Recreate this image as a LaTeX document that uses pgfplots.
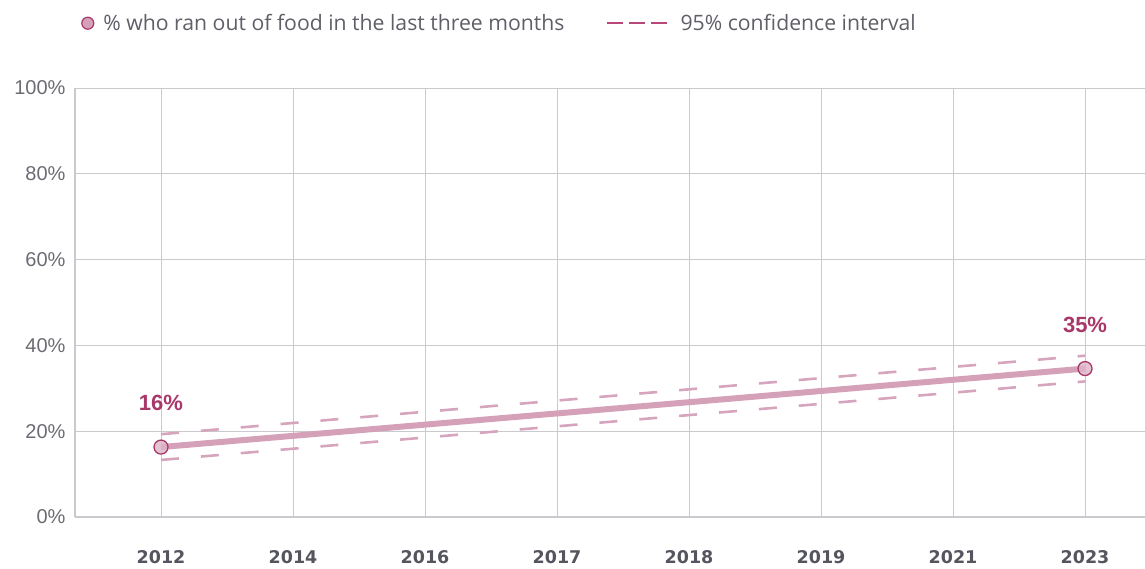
\documentclass[border=0pt]{standalone}
\usepackage{pgfplots}
\pgfplotsset{compat=1.18}
\usepackage{fontspec}
\setmainfont{Liberation Sans}
\newfontfamily\legfont{Open Sans}
\newfontfamily\xfont{DejaVu Sans}
\definecolor{linec}{HTML}{D4A1B9}
\definecolor{dashc}{HTML}{D6A5BD}
\definecolor{markc}{HTML}{A8386A}
\definecolor{legdash}{HTML}{B8487A}
\definecolor{gridc}{HTML}{CACACE}
\definecolor{ytc}{HTML}{6B6B73}
\definecolor{xtc}{HTML}{55555F}
\definecolor{legc}{HTML}{5F5F68}
\begin{document}
\begin{tikzpicture}
\path[use as bounding box] (-75pt,-51pt) rectangle (1070pt,517pt);
\begin{axis}[
  at={(0pt,0pt)}, anchor=south west,
  scale only axis, width=1070pt, height=429pt,
  xmin=-0.6515, xmax=7.4545, ymin=0, ymax=100,
  xtick={0,...,7},
  xticklabels={2012,2014,2016,2017,2018,2019,2021,2023},
  ytick={0,20,40,60,80,100},
  yticklabel={\pgfmathprintnumber{\tick}\%},
  /pgf/number format/assume math mode=true,
  axis x line=bottom, axis y line=left,
  axis line style={-, gridc, line width=1.1pt},
  grid=major, major grid style={gridc, line width=0.9pt},
  major tick length=0pt,
  xticklabel style={font=\xfont\fontsize{17.5}{20}\selectfont\bfseries, text=xtc, yshift=-30pt},
  yticklabel style={font=\fontsize{20}{22}\selectfont, text=ytc, xshift=-6pt},
  clip=false,
  legend style={at={(0.0028,1.151)}, anchor=west, draw=none, fill=none,
    font=\legfont\fontsize{21.2}{24}\selectfont, text=legc,
    legend columns=2,
    /tikz/every even column/.append style={column sep=40pt},
    /tikz/every odd column/.append style={column sep=7pt}},
  legend cell align=left,
]
\addlegendimage{legend image code/.code={\draw[fill=linec, draw=markc, line width=1.2pt] (6pt,0pt) circle (6pt);}}
\addlegendentry{\% who ran out of food in the last three months}
\addlegendimage{legend image code/.code={\draw[legdash, line width=1.8pt, dash pattern=on 16pt off 6pt] (0pt,0pt) -- (60pt,0pt); \path (64pt,0pt);}}
\addlegendentry{95\% confidence interval}
\addplot[dashc, line width=2.6pt, dash pattern=on 18pt off 22pt, forget plot] coordinates {(0,19.3) (7,37.6)};
\addplot[dashc, line width=2.6pt, dash pattern=on 18pt off 22pt, forget plot] coordinates {(0,13.3) (7,31.6)};
\addplot[linec, line width=6pt, mark=*, mark size=7pt, mark options={fill=linec!80!white, fill opacity=0.8, draw=markc, line width=1.3pt}, forget plot] coordinates {(0,16.3) (7,34.6)};
\node[font=\fontsize{22}{24}\selectfont\bfseries, text=markc] at (axis cs:0,26.6) {16\%};
\node[font=\fontsize{22}{24}\selectfont\bfseries, text=markc] at (axis cs:7,44.8) {35\%};
\end{axis}
\end{tikzpicture}
\end{document}
